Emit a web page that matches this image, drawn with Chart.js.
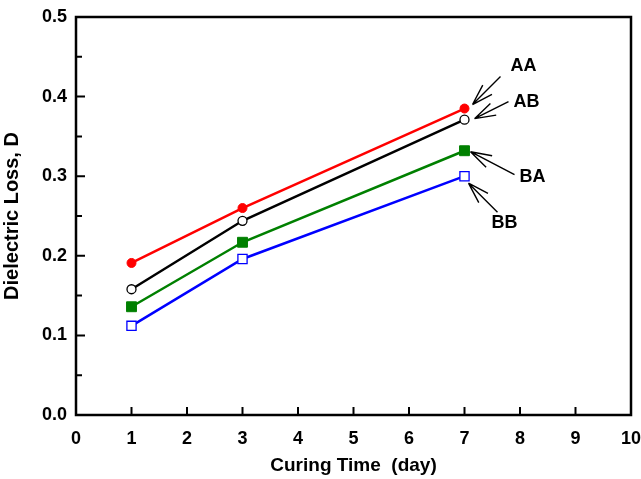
<!DOCTYPE html>
<html>
<head>
<meta charset="utf-8">
<script src="https://cdn.jsdelivr.net/npm/chart.js@4"></script>
<style>
  html, body { margin: 0; padding: 0; background: #fff; }
  #wrap { width: 641px; height: 479px; }
</style>
</head>
<body>
<div id="wrap"><canvas id="chart" width="641" height="479"></canvas></div>
<script>
// data
const curingDays = [1, 3, 7];
const lossAA = [0.191, 0.260, 0.385];
const lossAB = [0.158, 0.244, 0.371];
const lossBA = [0.136, 0.217, 0.332];
const lossBB = [0.112, 0.196, 0.300];
const seriesNames = ['AA', 'AB', 'BA', 'BB'];

// arrow label offsets (px) from the last point of each series
const labelOffsets = [
  { tip: [8, -4], tail: [36, -32], text: [59, -43] },
  { tip: [10, -1], tail: [44, -18], text: [62, -18] },
  { tip: [6, 1], tail: [50, 24], text: [68, 26] },
  { tip: [4, 7], tail: [33, 36], text: [40, 47] }
];

const toPts = vals => vals.map((v, i) => ({ x: curingDays[i], y: v }));

Chart.defaults.font.family = "'Liberation Sans', Arial, sans-serif";
Chart.defaults.font.weight = 'bold';
Chart.defaults.font.size = 18;
Chart.defaults.color = '#000';

// frame + inward ticks
const framePlugin = {
  id: 'frame',
  afterDraw(chart) {
    const ctx = chart.ctx;
    const a = chart.chartArea;
    const xs = chart.scales.x, ys = chart.scales.y;
    ctx.save();
    ctx.strokeStyle = '#000';
    ctx.lineWidth = 2.5;
    ctx.strokeRect(a.left, a.top, a.right - a.left, a.bottom - a.top);
    ctx.lineWidth = 2;
    ctx.beginPath();
    xs.ticks.forEach(t => {
      const px = xs.getPixelForValue(t.value);
      ctx.moveTo(px, a.bottom);
      ctx.lineTo(px, a.bottom - 8);
    });
    ys.ticks.forEach((t, i) => {
      const py = ys.getPixelForValue(t.value);
      ctx.moveTo(a.left, py);
      ctx.lineTo(a.left + 9, py);
      if (i < ys.ticks.length - 1) {
        const pm = ys.getPixelForValue(t.value + 0.05);
        ctx.moveTo(a.left, pm);
        ctx.lineTo(a.left + 6, pm);
      }
    });
    ctx.stroke();
    ctx.restore();
  }
};

// arrows with series names
const arrowPlugin = {
  id: 'arrows',
  afterDatasetsDraw(chart) {
    const ctx = chart.ctx;
    ctx.save();
    ctx.strokeStyle = '#000';
    ctx.fillStyle = '#000';
    ctx.lineWidth = 1.4;
    ctx.font = "bold 18px 'Liberation Sans', Arial, sans-serif";
    ctx.textAlign = 'center';
    ctx.textBaseline = 'middle';
    chart.data.datasets.forEach((ds, di) => {
      const meta = chart.getDatasetMeta(di);
      const p = meta.data[meta.data.length - 1];
      const o = labelOffsets[di];
      const tx = p.x + o.tip[0], ty = p.y + o.tip[1];
      const sx = p.x + o.tail[0], sy = p.y + o.tail[1];
      const ang = Math.atan2(sy - ty, sx - tx);
      ctx.beginPath();
      ctx.moveTo(sx, sy);
      ctx.lineTo(tx, ty);
      [-0.3, 0.3].forEach(d => {
        ctx.moveTo(tx, ty);
        ctx.lineTo(tx + 22 * Math.cos(ang + d), ty + 22 * Math.sin(ang + d));
      });
      ctx.stroke();
      ctx.fillText(seriesNames[di], p.x + o.text[0], p.y + o.text[1]);
    });
    ctx.restore();
  }
};

const noPad = s => {
  s.paddingLeft = 0; s.paddingRight = 0; s.paddingTop = 0; s.paddingBottom = 0;
};

new Chart(document.getElementById('chart'), {
  type: 'line',
  data: {
    datasets: [
      { label: 'AA', data: toPts(lossAA), borderColor: '#ff0000', backgroundColor: '#ff0000',
        pointStyle: 'circle', pointRadius: 4.5, pointBorderWidth: 1 },
      { label: 'AB', data: toPts(lossAB), borderColor: '#000000', backgroundColor: '#ffffff',
        pointStyle: 'circle', pointRadius: 4.5, pointBorderWidth: 1.3 },
      { label: 'BA', data: toPts(lossBA), borderColor: '#008000', backgroundColor: '#008000',
        pointStyle: 'rect', pointRadius: 7, pointBorderWidth: 1 },
      { label: 'BB', data: toPts(lossBB), borderColor: '#0000ff', backgroundColor: '#ffffff',
        pointStyle: 'rect', pointRadius: 6.5, pointBorderWidth: 1.3 }
    ]
  },
  options: {
    responsive: false,
    animation: false,
    elements: { line: { borderWidth: 2.5, tension: 0 } },
    layout: { padding: { top: 17, right: 10, left: 0, bottom: 0 } },
    plugins: { legend: { display: false }, tooltip: { enabled: false } },
    scales: {
      x: {
        type: 'linear', min: 0, max: 10,
        ticks: { stepSize: 1, padding: 13 },
        grid: { display: false, drawTicks: false },
        border: { display: false },
        title: { display: true, text: 'Curing Time  (day)', font: { size: 19 },
                 padding: { top: 4, bottom: 2 } },
        afterFit: s => { s.height = 64; noPad(s); }
      },
      y: {
        min: 0, max: 0.5,
        ticks: { stepSize: 0.1, padding: 9, callback: v => v.toFixed(1) },
        grid: { display: false, drawTicks: false },
        border: { display: false },
        title: { display: true, text: 'Dielectric Loss, D', font: { size: 20 },
                 padding: { top: 0, bottom: 4 } },
        afterFit: s => { s.width = 76; noPad(s); }
      }
    }
  },
  plugins: [framePlugin, arrowPlugin]
});
</script>
</body>
</html>
